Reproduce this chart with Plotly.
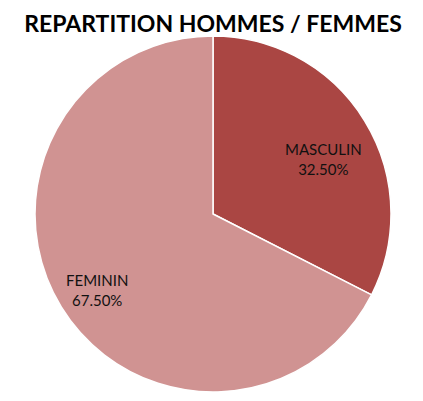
import plotly.graph_objects as go

labels = ['MASCULIN', 'FEMININ']
values = [32.5, 67.5]
colors = ['#AA4643', '#D09392']

# the page body has an 8px margin, so the figure is drawn 8px in
OFF = 8
W, H = 423 - 2 * OFF, 401 - 2 * OFF


def px_x(p):
    return (p - OFF) / W


def px_y(p):
    return 1 - (p - OFF) / H


fig = go.Figure(data=[go.Pie(
    labels=labels,
    values=values,
    marker=dict(colors=colors, line=dict(color='white', width=1.5)),
    sort=False,
    direction='clockwise',
    rotation=0,
    textinfo='none',
    hoverinfo='label+percent',
    showlegend=False,
    domain=dict(x=[px_x(35), px_x(391)], y=[px_y(392), px_y(36)])
)])

# label positions (pixels)
label_pos = [(323, 159), (97, 290)]
for (px_, py_), lab, val in zip(label_pos, labels, values):
    fig.add_annotation(
        text=f"{lab}<br>{val:.2f}%",
        xref='paper', yref='paper',
        x=px_x(px_), y=px_y(py_),
        xanchor='center', yanchor='middle',
        showarrow=False,
        font=dict(family='Lato', size=15, color='#111111'),
        align='center'
    )

fig.update_layout(
    width=W, height=H,
    title=dict(
        text='<b>REPARTITION HOMMES / FEMMES</b>',
        x=px_x(213), xanchor='center',
        y=px_y(24), yanchor='middle',
        font=dict(family='Lato', size=23, color='black')
    ),
    margin=dict(t=0, b=0, l=0, r=0),
    paper_bgcolor='white'
)

fig.write_html("out.html")
